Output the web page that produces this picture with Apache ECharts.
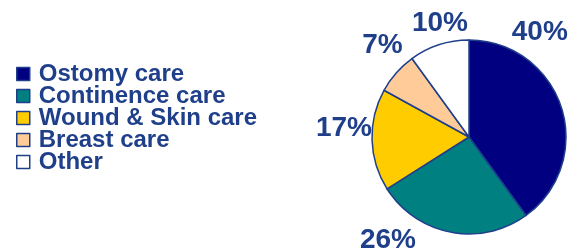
<!DOCTYPE html>
<html>
<head>
<meta charset="utf-8">
<script src="https://cdn.jsdelivr.net/npm/echarts@6/dist/echarts.min.js"></script>
<style>
  html, body { margin: 0; padding: 0; background: #fff; }
  #chart { width: 571px; height: 252px; }
</style>
</head>
<body>
<div id="chart"></div>
<script>
// categories and shares (percent)
var categories = ["Ostomy care", "Continence care", "Wound & Skin care", "Breast care", "Other"];
var shares = [40, 26, 17, 7, 10];
var colors = ["#000080", "#008080", "#FFCC00", "#FFCC99", "#FFFFFF"];

// label nudges away from the default outside spot (px)
var labelNudge = [[-64, -72], [-28, 3], [10, -10], [15, -21], [37, -12]];

var textBlue = "#1F3F8A";

var chart = echarts.init(document.getElementById("chart"));

chart.setOption({
  animation: false,
  legend: {
    orient: "vertical",
    left: 16,
    top: 62,
    padding: 0,
    icon: "rect",
    itemWidth: 13,
    itemHeight: 13,
    itemGap: -2,
    data: categories,
    itemStyle: { borderColor: "#1F3F8A", borderWidth: 1.5 },
    textStyle: {
      fontFamily: "Liberation Sans, Arial, sans-serif",
      fontWeight: "bold",
      fontSize: 24,
      lineHeight: 21,
      color: textBlue,
      padding: [0, 0, 0, 4]
    }
  },
  series: [
    {
      type: "pie",
      center: [469, 137],
      radius: 97,
      startAngle: 90,
      clockwise: true,
      data: categories.map(function (name, i) {
        return { name: name, value: shares[i], itemStyle: { color: colors[i] } };
      }),
      itemStyle: { borderColor: "#1F3F8A", borderWidth: 1.5 },
      label: {
        show: true,
        position: "outside",
        formatter: "{c}%",
        overflow: "none",
        fontFamily: "Liberation Sans, Arial, sans-serif",
        fontWeight: "bold",
        fontSize: 28,
        color: textBlue
      },
      labelLine: { show: false, length: 10, length2: 0 },
      labelLayout: function (p) {
        var n = labelNudge[p.dataIndex];
        return { dx: n[0], dy: n[1], hideOverlap: false };
      }
    }
  ]
});
</script>
</body>
</html>
